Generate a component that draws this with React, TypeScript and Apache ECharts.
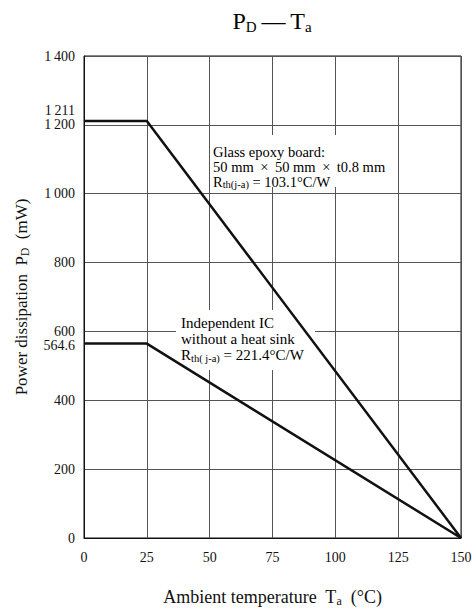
import React, { useEffect, useRef } from 'react';
import * as echarts from 'echarts';

const temps = [0, 25, 150];
const boardPower = [1211, 1211, 0];
const icPower = [564.6, 564.6, 0];
const extraYLabels = [564.6, 1211];

const FONT = '"Liberation Serif", "Times New Roman", serif';

function fmtNum(v: number): string {
  if (v >= 1000) {
    const s = String(Math.round(v));
    return s.slice(0, 1) + '\u2009' + s.slice(1);
  }
  return String(v);
}

export default function App() {
  const ref = useRef<HTMLDivElement>(null);
  useEffect(() => {
    if (!ref.current) return;
    const chart = echarts.init(ref.current, null, { renderer: 'svg' });
    const subRichX = {
      sub: { fontSize: 12, padding: [9, 0, 0, 0], fontFamily: FONT, color: '#111' },
    };
    const subRichY = {
      sub: { fontSize: 11.5, padding: [8, 0, 0, 0], fontFamily: FONT, color: '#111' },
    };
    chart.setOption({
      animation: false,
      backgroundColor: '#fff',
      textStyle: { fontFamily: FONT, color: '#111' },
      grid: {
        left: 84,
        right: 14,
        top: 56,
        bottom: 75,
        show: true,
        borderColor: '#111',
        borderWidth: 1,
        backgroundColor: 'transparent',
      },
      xAxis: {
        type: 'value',
        min: 0,
        max: 150,
        interval: 25,
        axisLine: { show: true, lineStyle: { color: '#111', width: 1 } },
        axisTick: { show: false },
        splitLine: { show: true, lineStyle: { color: '#555', width: 1 } },
        axisLabel: { fontSize: 14, color: '#111', margin: 12, fontFamily: FONT },
        name: 'Ambient temperature  T{sub|a}  (°C)',
        nameLocation: 'middle',
        nameGap: 48,
        nameTextStyle: { fontSize: 18, color: '#111', fontFamily: FONT, rich: subRichX },
      },
      yAxis: [
        {
          type: 'value',
          min: 0,
          max: 1400,
          interval: 200,
          axisLine: { show: true, lineStyle: { color: '#111', width: 1 } },
          axisTick: { show: false },
          splitLine: { show: true, lineStyle: { color: '#555', width: 1 } },
          axisLabel: {
            fontSize: 14,
            color: '#111',
            margin: 9,
            fontFamily: FONT,
            formatter: (v: number) => fmtNum(v),
          },
          name: 'Power dissipation  P{sub|D}  (mW)',
          nameLocation: 'middle',
          nameGap: 53,
          nameTextStyle: { fontSize: 17, color: '#111', fontFamily: FONT, rich: subRichY },
        },
        {
          type: 'value',
          min: 0,
          max: 1400,
          position: 'left',
          offset: 0,
          axisLine: { show: false },
          axisTick: { show: false },
          splitLine: { show: false },
          axisLabel: {
            customValues: extraYLabels,
            fontSize: 14,
            color: '#111',
            margin: 9,
            fontFamily: FONT,
            formatter: (v: number) => (v >= 1000 ? '{up|' + fmtNum(v) + '}' : '{dn|' + String(v) + '}'),
            rich: {
              up: { fontSize: 14, fontFamily: FONT, color: '#111', padding: [0, 0, 21, 0] },
              dn: { fontSize: 14, fontFamily: FONT, color: '#111', padding: [4, 0, 0, 0] },
            },
          },
        },
      ],
      series: [
        {
          type: 'line',
          name: 'Glass epoxy board',
          data: temps.map((t, i) => [t, boardPower[i]]),
          symbol: 'none',
          lineStyle: { color: '#111', width: 2.5 },
          z: 3,
        },
        {
          type: 'line',
          name: 'Independent IC',
          data: temps.map((t, i) => [t, icPower[i]]),
          symbol: 'none',
          lineStyle: { color: '#111', width: 2.5 },
          z: 3,
        },
      ],
      graphic: [
        {
          type: 'text',
          x: 272,
          y: 21,
          z: 10,
          style: {
            text: '{m|P}{s|D}{m|\u2009—\u2009T}{s|a}',
            align: 'center',
            verticalAlign: 'middle',
            rich: {
              m: { fontSize: 24, fontFamily: FONT, color: '#111' },
              s: { fontSize: 15, fontFamily: FONT, color: '#111', padding: [11, 0, 0, 0] },
            },
          },
        },
        {
          type: 'rect',
          z: 1,
          shape: { x: 212, y: 135, width: 182, height: 52 },
          style: { fill: '#fff' },
        },
        {
          type: 'text',
          x: 213,
          y: 144,
          z: 10,
          style: {
            text:
              '{m|Glass epoxy board:}\n{m|50 mm \u2009×\u2009 50 mm \u2009×\u2009 t0.8 mm}\n{m|R}{s|th(j-a)}{m| = 103.1°C/W}',
            rich: {
              m: { fontSize: 14.5, lineHeight: 15, fontFamily: FONT, color: '#111' },
              s: { fontSize: 10.5, lineHeight: 15, fontFamily: FONT, color: '#111', padding: [6, 0, 0, 0] },
            },
          },
        },
        {
          type: 'rect',
          z: 1,
          shape: { x: 176, y: 310, width: 139, height: 60 },
          style: { fill: '#fff' },
        },
        {
          type: 'text',
          x: 181,
          y: 315,
          z: 10,
          style: {
            text: '{m|Independent IC}\n{m|without a heat sink}\n{m|R}{s|th( j-a)}{m| = 221.4°C/W}',
            rich: {
              m: { fontSize: 15, lineHeight: 16, fontFamily: FONT, color: '#111' },
              s: { fontSize: 10.5, lineHeight: 16, fontFamily: FONT, color: '#111', padding: [6, 0, 0, 0] },
            },
          },
        },
      ],
    });
    return () => chart.dispose();
  }, []);
  return (
    <div
      ref={ref}
      style={{ position: 'fixed', left: 0, top: 0, width: 475, height: 613, background: '#fff' }}
    />
  );
}
